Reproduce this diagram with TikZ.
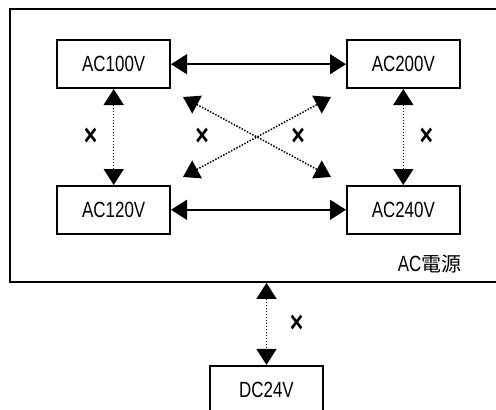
\documentclass[tikz,border=0pt]{standalone}
\usepackage{fontspec}
\setmainfont[FakeStretch=0.77]{Liberation Sans}
\newfontfamily\cjkfont{Noto Sans CJK JP}
\usepackage{tikz}
\usetikzlibrary{arrows.meta,positioning,matrix,calc}
\tikzset{
  >={Triangle[length=16pt,width=20pt]},
  voltbox/.style={draw=black,line width=1.6pt,minimum width=113pt,minimum height=48pt,inner sep=0pt,font=\fontsize{22}{24}\selectfont},
  framebox/.style={draw=black,line width=1.8pt,minimum width=487pt,minimum height=273pt,inner sep=0pt},
  okflow/.style={<->,line width=1.5pt},
  ngflow/.style={<->,line width=1.5pt,dash pattern=on 1.5pt off 1.5pt},
  ngmark/.style={font=\fontsize{30}{32}\selectfont\bfseries}
}
\begin{document}
\begin{tikzpicture}[x=1pt,y=-1pt]
  \useasboundingbox (0,0) rectangle (496,410);
  \node[framebox] (frame) at (253.5,145.5) {};
  \matrix (m) at (258.5,137) [matrix of nodes,column sep=175pt,row sep=96pt,nodes={anchor=center},ampersand replacement=\&] {
    |[voltbox]| AC100V \& |[voltbox]| AC200V \\
    |[voltbox]| AC120V \& |[voltbox]| AC240V \\
  };
  \node[anchor=base east,font=\fontsize{22}{24}\selectfont] (acsrc) at ($(frame.south east)+(-33,-11)$) {AC{\cjkfont\fontsize{20}{24}\selectfont 電源}};
  \node[voltbox,below=82pt of frame.south,xshift=13pt,anchor=north] (dc) {DC24V};
  % diagonal end points
  \coordinate (d11) at ($(m-1-1.south east)+(12,8)$);
  \coordinate (d12) at ($(m-1-2.south west)+(-15,8)$);
  \coordinate (d21) at ($(m-2-1.north east)+(12,-8)$);
  \coordinate (d22) at ($(m-2-2.north west)+(-15,-8)$);
  \coordinate (dctop) at (dc.north |- frame.south);
  \draw[okflow] (m-1-1) -- (m-1-2);
  \draw[okflow] (m-2-1) -- (m-2-2);
  \draw[ngflow] (m-1-1) -- (m-2-1) node[midway,xshift=-23pt,ngmark] {×};
  \draw[ngflow] (m-1-2) -- (m-2-2) node[midway,xshift=23pt,ngmark] {×};
  \draw[ngflow] (d11) -- (d22);
  \draw[ngflow] (d21) -- (d12);
  \node[ngmark] (x1) at ($(d11)!0.5!(d22)+(-55,0)$) {×};
  \node[ngmark] (x2) at ($(d11)!0.5!(d22)+(41,0)$) {×};
  \draw[ngflow] (dctop) -- (dc) node[midway,xshift=30pt,ngmark] {×};
\end{tikzpicture}
\end{document}
